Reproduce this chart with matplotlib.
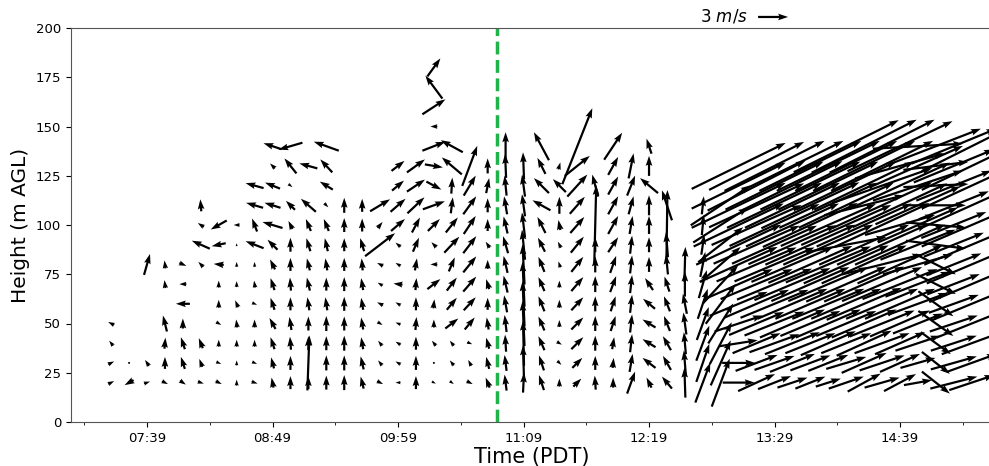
import numpy as np
import matplotlib
matplotlib.use("Agg")
import matplotlib.pyplot as plt

# profile times (PDT) and range gates (m AGL)
times = ["07:19", "07:29", "07:39", "07:49", "07:59", "08:09", "08:19", "08:29",
         "08:39", "08:49", "08:59", "09:09", "09:19", "09:29", "09:39", "09:49",
         "09:59", "10:09", "10:19", "10:29", "10:39", "10:49", "10:59", "11:09",
         "11:19", "11:29", "11:39", "11:49", "11:59", "12:09", "12:19", "12:29",
         "12:39", "12:49", "12:59", "13:09", "13:19", "13:29", "13:39", "13:49",
         "13:59", "14:09", "14:19", "14:29", "14:39", "14:49", "14:59", "15:09",
         "15:19"]
heights = [20, 30, 40, 50, 60, 70, 80, 90, 100, 110, 120, 130, 140, 150, 160, 170, 180, 190]

tick_labels = ["07:39", "08:49", "09:59", "11:09", "12:19", "13:29", "14:39"]
front_time = "10:54"

# u (east) and v (north) wind, m/s, one list per profile from 20 m up, None = no data
N = None
u_wind = [
    [0.6, 0.6, -0.4, -0.6],
    [-0.9, 0.2],
    [0.6, -0.4, N, N, N, N, 0.6],
    [0.6, 0.0, 0.1, -0.4, N, -0.1, -0.1],
    [0.6, -0.4, -0.4, 0.0, -1.4, -0.7, 0.7],
    [0.6, -0.3, -0.4, N, N, N, -0.5, -1.8, -0.6, -0.1],
    [0.6, 0.5, 0.0, 0.5, 0.0, 0.0, -1.0, -1.4, -1.6],
    [0.0, 0.0, 0.0, -0.1, -0.3, 0.0, 0.0, 0.0, -0.6],
    [0.6, 0.5, 0.0, 0.0, 0.5, -0.1, 0.0, -1.8, -0.5, -1.7, -1.8],
    [-0.2, -0.3, -0.4, -0.6, -0.4, -0.4, -0.5, -1.0, -2.0, -1.6, -1.5, -0.5, -1.8],
    [0.0, 0.0, -0.1, -0.2, 0.0, -0.1, 0.0, 0.0, -0.4, -0.9, 0.4, -1.2, -2.4],
    [0.0, 0.2, 0.0, 0.0, -0.2, -0.3, -0.3, -0.4, -0.5, -1.5, N, -1.8],
    [0.0, 0.0, 0.0, 0.0, -0.2, 0.0, -0.2, -0.3, -0.5, 0.4, -1.3, -1.2, -2.5],
    [0.0, 0.0, 0.0, 0.0, 0.0, 0.0, 0.0, 0.0, 0.0, 0.0],
    [-0.3, -0.3, -0.2, -0.2, -0.2, -0.2, -0.1, -0.4, 0.0, 0.0],
    [0.6, -0.4, -0.4, 0.5, -0.6, -0.5, -0.6, 3.0, 0.5, 2.0],
    [-0.5, -0.5, -0.5, -0.5, -0.5, -0.9, -0.5, -0.5, 1.4, 1.5, 1.2, 1.3],
    [0.0, 0.0, 0.0, 0.1, 0.0, 0.1, 0.2, 0.6, 0.8, 1.7, 1.8, 1.8],
    [0.4, 0.2, -0.4, 0.0, 0.1, 1.3, -0.7, -0.5, 1.2, 2.2, 1.5, 1.8, 2.3, -0.7, 2.3, -1.7, 1.3],
    [0.4, -0.4, -0.4, 1.3, 1.0, 1.0, 0.6, 1.5, 1.2, 0.2, 0.1, -2.0, -2.2],
    [0.6, -0.3, 0.5, 1.0, 1.2, 1.3, 1.3, 1.3, 1.2, 1.3, 1.2, 1.5],
    [-0.4, -0.3, -0.3, -0.2, 0.0, -0.3, 0.0, -0.4, 0.0, 0.0, 0.3, 0.0],
    [-0.2, -0.2, -0.1, -0.2, -0.3, -0.4, -0.4, -0.5, -0.4, -0.3, -0.2, -0.1, 0.0],
    [0.1, -0.1, -0.1, -0.2, -0.2, -0.2, -0.2, -0.3, -0.3, -0.3, -0.3, -0.1],
    [-0.5, -0.5, -0.6, -0.6, -0.6, -0.6, -0.6, -0.7, -0.8, -1.8, -1.5, -0.8, -1.5],
    [0.0, 0.4, 0.5, 0.0, 0.0, 0.0, -0.2, -0.3, -0.2, 0.0, -1.3, 0.2],
    [0.8, 1.0, 1.2, 1.2, 1.2, 1.2, 1.2, 1.3, 1.4, 1.5, 2.0, 2.5, 3.0],
    [-0.1, 0.0, 0.0, 0.0, 0.0, 0.0, 0.0, 0.0, 0.2, N, -0.6],
    [0.0, 0.1, 0.2, 0.5, 0.5, 0.6, 0.6, 1.0, 1.0, 1.0, 1.0, 1.0, 1.8],
    [0.8, 0.3, 0.2, 0.2, 0.2, 0.2, 0.2, 0.2, 0.3, 0.5, 0.8, 0.5],
    [-0.5, -1.3, -1.3, -1.3, -1.2, -0.8, 0.0, 0.0, 0.0, 0.0, -1.8, 0.0, -0.5],
    [-1.0, -0.8, -0.8, -0.6, -0.6, -0.5, -0.2, -0.2, 0.1, -1.0],
    [-0.1, -0.2, -0.2, -0.3, -0.4, 0.0, 0.1],
    [1.5, 1.3, 1.3, 1.2, 1.0, 0.8, 0.5, 0.3, 0.2, 0.2],
    [1.8, 2.0, 2.2, 2.5, 3.0, 3.5, 4.0, 4.5, 5.5, 6.0],
    [3.2, 3.3, 3.8, 4.8, 5.8, 6.8, 7.8, 8.5, 9.0, 9.4, 9.4, 9.4],
    [3.7, 4.2, 4.8, 5.5, 6.5, 7.2, 8.0, 8.6, 9.0, 9.5, 9.8, 9.5],
    [3.3, 4.0, 5.0, 6.0, 6.8, 7.5, 8.0, 8.5, 9.0, 9.5, 9.8, 10.0],
    [3.0, 4.5, 5.5, 6.5, 7.0, 7.6, 8.2, 8.8, 9.3, 9.5, 10.0, 10.2],
    [3.0, 4.0, 5.0, 6.0, 7.0, 7.8, 8.4, 9.0, 9.5, 9.8, 10.0, 10.2],
    [2.5, 4.0, 5.5, 6.5, 7.2, 8.0, 8.5, 9.0, 9.5, 9.8, 10.0, 10.3],
    [3.5, 4.0, 5.0, 6.0, 7.0, 8.0, 8.5, 8.0, 9.0, 9.5, 10.0, 10.2, 10.5],
    [3.3, 4.5, 5.5, 6.5, 7.5, 8.0, 8.5, 9.0, 9.5, 8.0, 10.0, 10.2, 10.5],
    [3.5, 4.5, 5.5, 6.5, 7.2, 8.0, 8.0, 9.0, 9.5, 10.0, 10.0, 10.2, 10.5],
    [3.2, 4.0, 5.0, 6.0, 7.0, 7.5, 8.5, 9.0, 7.0, 9.5, 10.0, 9.0, 10.5],
    [2.8, 3.5, 4.5, 5.0, 6.0, 6.5, 7.0, 7.5, 8.0, 8.5, 9.0, 9.0, 9.0],
    [2.8, 2.8, 3.0, 3.5, 3.5, 4.0, 4.0, 6.0, 6.0, 6.0, 6.5, 6.5, 9.0],
    [4.7, 4.6, 4.6, 4.8, 5.0, 5.2, 5.5, 6.0, 6.5, 7.0, 7.5, 8.0, 8.5],
    [4.5, 5.0, 6.0, 7.0, 8.0, 8.5, 9.0, 9.5, 10.0, 10.0, 10.0, 10.0, 10.0],
]
v_wind = [
    [0.3, 0.3, 0.5, 0.3],
    [-0.5, 0.0],
    [0.2, 0.6, N, N, N, N, 2.1],
    [-0.3, 1.2, 1.1, 1.6, N, 0.8, 0.8],
    [-0.4, 1.2, 1.2, 1.0, 0.0, 0.0, -0.3],
    [-0.2, 0.8, 1.0, N, N, N, 0.5, 0.8, 0.4, 1.2],
    [-0.3, -0.2, 0.7, -0.3, 0.8, 0.7, 0.1, -0.3, -0.9],
    [0.6, 0.5, 0.7, 0.8, 0.7, 0.6, 0.5, 0.3, 0.0],
    [-0.2, -0.2, 0.7, 0.8, -0.2, 0.7, 0.5, 0.7, 1.3, 0.5, 0.5],
    [1.0, 1.1, 1.2, 1.1, 1.2, 1.2, 1.0, 1.0, 0.6, 0.5, 0.6, 0.5, 0.6],
    [1.3, 1.4, 1.3, 1.3, 1.3, 1.3, 1.3, 1.4, 0.8, 0.9, -0.3, 1.5, -0.7],
    [1.3, 5.5, 1.4, 1.4, 1.3, 1.3, 1.2, 1.3, 1.2, 1.3, N, 0.5],
    [1.4, 1.5, 1.4, 1.5, 1.3, 1.3, 1.2, 1.3, 1.2, -0.4, 0.8, 1.3, 0.9],
    [1.5, 1.5, 1.5, 1.4, 1.4, 1.4, 1.3, 1.3, 1.4, 1.5],
    [1.2, 1.3, 1.2, 1.2, 1.2, 1.2, 1.2, 1.3, 1.3, 1.3],
    [-0.3, 0.5, 0.5, -0.3, 0.3, 0.3, 0.3, 2.3, 0.6, 1.2],
    [0.0, 0.3, 0.3, 0.2, 0.3, 0.1, 0.3, 0.4, 1.2, 1.3, 1.0, 1.0],
    [1.3, 1.4, 1.3, 1.3, 1.3, 1.2, 1.2, 1.4, 1.5, 1.6, 1.2, 1.3],
    [-0.2, 0.0, 0.5, 0.8, 0.9, 1.0, 0.0, 0.5, 1.2, 0.8, -0.8, -0.3, 0.9, 0.0, 1.5, 2.3, 1.8],
    [-0.3, 0.5, 0.5, 1.0, 1.2, 1.3, 1.4, 1.6, 1.5, 1.6, 1.6, 1.7, 1.2],
    [-0.3, 0.6, -0.2, 1.2, 1.3, 1.5, 1.6, 1.7, 1.8, 1.8, 2.0, 4.0],
    [1.0, 1.2, 1.1, 1.2, 1.2, 1.0, 0.9, 0.6, 1.2, 1.4, 1.5, 1.5],
    [1.6, 1.6, 1.7, 1.7, 1.7, 1.7, 1.7, 1.7, 1.7, 1.8, 2.0, 2.4, 2.8],
    [2.0, 3.5, 4.5, 4.5, 4.5, 4.5, 4.0, 3.0, 2.5, 2.2, 2.2, 2.7],
    [1.5, 1.5, 1.4, 1.4, 1.5, 1.4, 1.5, 1.4, 1.6, 1.0, 1.5, 1.6, 2.8],
    [0.8, -0.4, -0.3, 0.7, 0.8, 0.7, 0.6, 0.6, 1.0, 1.7, 1.3, 0.7],
    [0.8, 1.0, 1.2, 1.2, 1.3, 1.4, 1.5, 1.6, 1.6, 1.7, 2.2, 2.0, 7.6],
    [1.4, 1.4, 1.5, 1.5, 1.5, 1.6, 1.6, 1.5, 8.0, N, 2.2],
    [1.0, 1.0, 1.2, 1.5, 1.5, 1.6, 1.7, 1.5, 1.8, 1.8, 1.8, 1.8, 2.7],
    [2.2, 1.8, 1.8, 1.8, 1.8, 1.8, 1.8, 1.8, 1.8, 1.8, 2.0, 2.5],
    [1.0, 1.0, 0.8, 0.8, 1.0, 1.2, 1.5, 1.5, 1.8, 2.0, 1.5, 2.0, 1.5],
    [1.2, 1.4, 1.4, 1.5, 1.5, 1.5, 2.0, 2.5, 7.0, 3.0],
    [3.0, 2.5, 2.2, 2.2, 2.0, 2.5, 3.5],
    [4.0, 3.8, 3.5, 3.3, 3.0, 2.8, 2.5, 2.0, 2.0, 1.8],
    [4.8, 4.5, 4.2, 4.0, 4.0, 3.8, 3.5, 3.5, 3.5, 4.0],
    [0.0, 0.0, 0.6, 1.6, 2.4, 3.0, 3.5, 4.0, 4.3, 4.5, 4.6, 4.6],
    [1.7, 1.6, 2.0, 2.3, 2.8, 3.0, 3.4, 3.8, 4.0, 4.4, 5.0, 4.8],
    [1.3, 1.4, 1.8, 2.4, 2.8, 3.1, 3.4, 3.8, 4.2, 4.5, 4.8, 5.0],
    [1.0, 1.8, 2.2, 2.8, 3.0, 3.2, 3.5, 3.9, 4.3, 4.5, 4.9, 5.0],
    [1.2, 1.5, 2.0, 2.5, 3.0, 3.4, 3.7, 4.0, 4.4, 4.6, 4.8, 5.0],
    [0.8, 1.6, 2.4, 2.8, 3.0, 3.4, 3.6, 4.0, 4.2, 4.5, 4.8, 5.0],
    [1.2, 1.2, 2.0, 2.5, 3.0, 3.5, 3.8, 1.5, 4.0, 4.5, 4.8, 5.0, 5.2],
    [1.8, 2.0, 2.5, 2.8, 3.2, 3.5, 3.8, 4.0, 4.3, 2.0, 4.8, 5.0, 5.3],
    [1.0, 1.5, 2.0, 2.6, 3.0, 3.4, 2.0, 4.0, 4.4, 4.6, 3.5, 5.0, 5.3],
    [1.7, 1.8, 2.2, 2.6, 3.0, 3.0, 3.8, 4.0, 2.0, 4.4, 4.6, 2.5, 5.0],
    [0.5, 1.0, 1.5, 2.0, 2.2, 2.5, 2.0, 3.0, 3.5, 3.8, 3.0, 4.0, 0.5],
    [-2.2, -2.2, -2.2, -2.5, -2.5, -2.0, -2.0, -0.8, -0.5, 0.0, 0.3, 0.8, 3.5],
    [1.2, 1.3, 1.5, 1.6, 1.8, 2.0, 2.2, 2.4, 2.6, 2.8, 3.0, 3.3, 3.5],
    [1.5, 1.8, 2.2, 2.8, 3.3, 3.6, 3.8, 4.0, 4.3, 4.5, 4.6, 4.8, 5.0],
]


def to_minutes(t):
    hh, mm = t.split(":")
    return int(hh) * 60 + int(mm)


X, Y, U, V = [], [], [], []
for t, us, vs in zip(times, u_wind, v_wind):
    for h, uu, vv in zip(heights, us, vs):
        if uu is None:
            continue
        X.append(to_minutes(t))
        Y.append(h)
        U.append(uu)
        V.append(vv)

fig = plt.figure(figsize=(9.89, 4.66), dpi=100)
ax = fig.add_axes([71 / 989, 44 / 466, 921 / 989, 394 / 466])

q = ax.quiver(X, Y, U, V, pivot="middle", angles="uv", scale=10, scale_units="inches",
              width=0.0024, headwidth=3, headlength=4.5, headaxislength=4, color="black")
ax.quiverkey(q, 0.746, 1.028, 3, r"3 $m/s$", labelpos="W", coordinates="axes",
             fontproperties={"size": 12})

ax.axvline(to_minutes(front_time), color="#1fb34a", linestyle="--", linewidth=2.5)

major = [to_minutes(t) for t in tick_labels]
ax.set_xticks(major)
ax.set_xticklabels(tick_labels, fontsize=9.5)
ax.set_xticks([m - 35 for m in major] + [major[-1] + 35], minor=True)
ax.set_xlim(416.6, 930.3)
ax.set_ylim(0, 200)
ax.set_yticks(range(0, 201, 25))
ax.tick_params(axis="y", labelsize=9.5)
for side in ["left", "bottom", "top", "right"]:
    ax.spines[side].set_color("#555555")

ax.set_xlabel("Time (PDT)", fontsize=15, labelpad=2)
ax.set_ylabel("Height (m AGL)", fontsize=14.5)

fig.savefig("out.png", dpi=100)
